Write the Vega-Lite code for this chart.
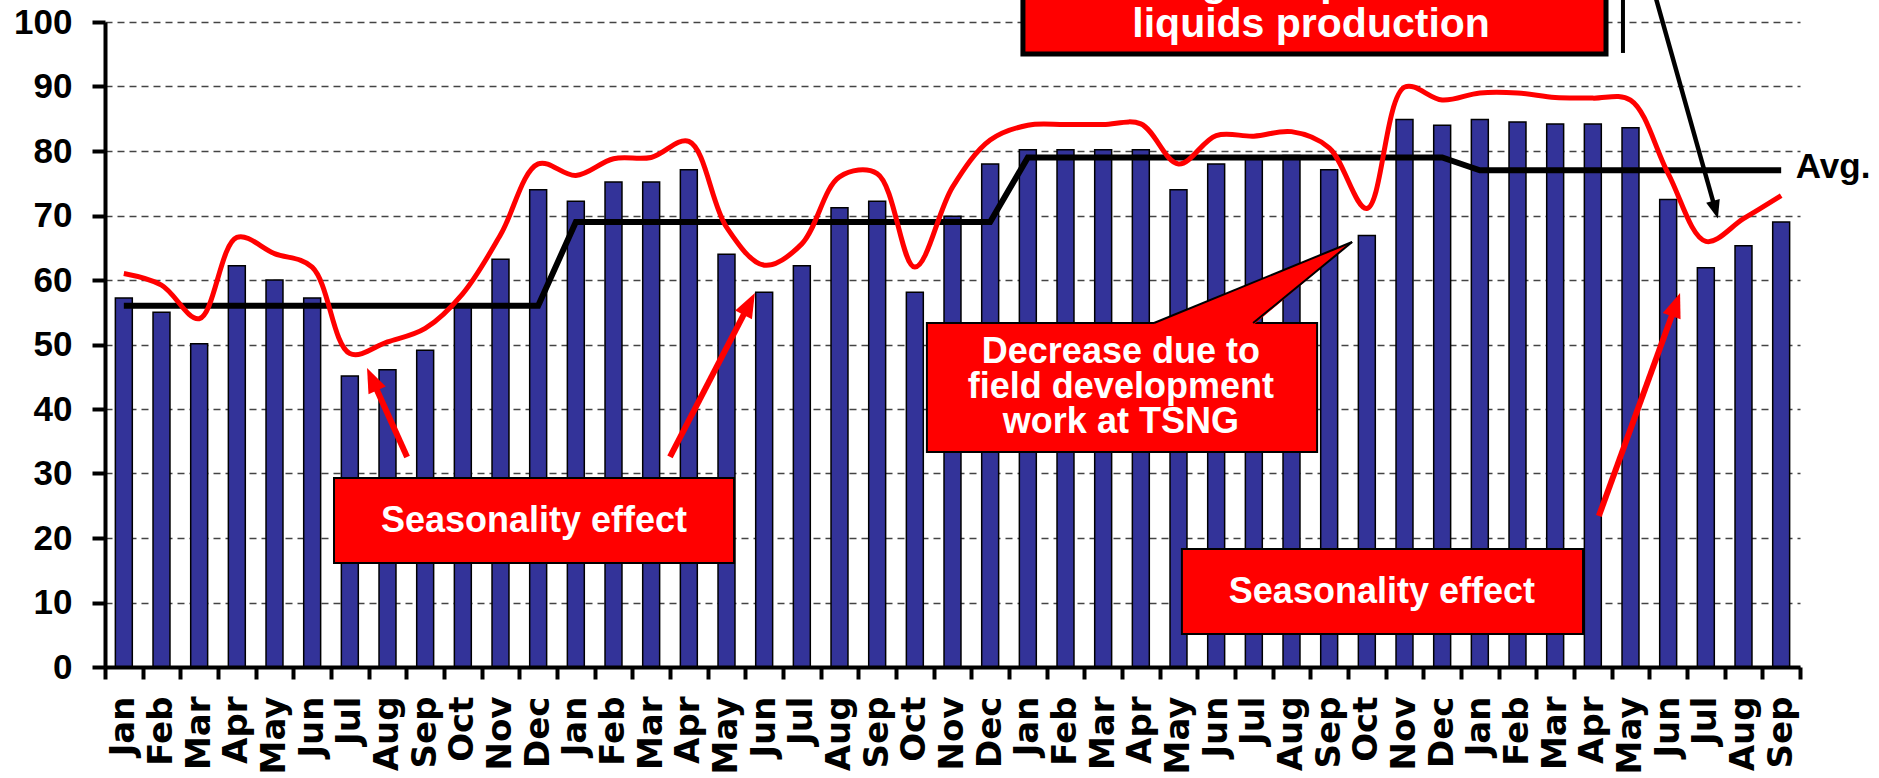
{
  "$schema": "https://vega.github.io/schema/vega-lite/v6.json",
  "width": 1695,
  "height": 645,
  "autosize": {"type": "none"},
  "padding": {"left": 105, "top": 22, "right": 79, "bottom": 111},
  "background": "white",
  "config": {
    "view": {"stroke": null},
    "axisY": {
      "labelFont": "Liberation Sans",
      "labelFontWeight": "bold",
      "labelFontSize": 35,
      "labelColor": "black",
      "labelPadding": 20,
      "labelOverlap": false,
      "tickSize": 13,
      "tickWidth": 4,
      "tickColor": "black",
      "domainColor": "black",
      "domainWidth": 4,
      "grid": true,
      "gridColor": "#444444",
      "gridDash": [7, 5],
      "gridWidth": 1.3
    }
  },
  "datasets": {
    "monthly": [
      {"period": "Jan-1", "value": 57.2, "red": 61.0, "avg": 56},
      {"period": "Feb-1", "value": 55.0, "red": 59.2, "avg": 56},
      {"period": "Mar-1", "value": 50.1, "red": 54.0, "avg": 56},
      {"period": "Apr-1", "value": 62.2, "red": 66.6, "avg": 56},
      {"period": "May-1", "value": 60.0, "red": 64.1, "avg": 56},
      {"period": "Jun-1", "value": 57.2, "red": 62.0, "avg": 56},
      {"period": "Jul-1", "value": 45.1, "red": 48.6, "avg": 56},
      {"period": "Aug-1", "value": 46.1, "red": 50.4, "avg": 56},
      {"period": "Sep-1", "value": 49.1, "red": 52.5, "avg": 56},
      {"period": "Oct-1", "value": 56.0, "red": 57.9, "avg": 56},
      {"period": "Nov-1", "value": 63.2, "red": 67.0, "avg": 56},
      {"period": "Dec-1", "value": 74.0, "red": 78.0, "avg": 56},
      {"period": "Jan-2", "value": 72.2, "red": 76.2, "avg": 69},
      {"period": "Feb-2", "value": 75.2, "red": 78.8, "avg": 69},
      {"period": "Mar-2", "value": 75.2, "red": 79.0, "avg": 69},
      {"period": "Apr-2", "value": 77.1, "red": 81.5, "avg": 69},
      {"period": "May-2", "value": 64.0, "red": 68.2, "avg": 69},
      {"period": "Jun-2", "value": 58.1, "red": 62.3, "avg": 69},
      {"period": "Jul-2", "value": 62.2, "red": 65.6, "avg": 69},
      {"period": "Aug-2", "value": 71.2, "red": 76.0, "avg": 69},
      {"period": "Sep-2", "value": 72.2, "red": 76.5, "avg": 69},
      {"period": "Oct-2", "value": 58.1, "red": 62.0, "avg": 69},
      {"period": "Nov-2", "value": 69.9, "red": 74.4, "avg": 69},
      {"period": "Dec-2", "value": 78.0, "red": 81.7, "avg": 69},
      {"period": "Jan-3", "value": 80.2, "red": 84.0, "avg": 79},
      {"period": "Feb-3", "value": 80.2, "red": 84.1, "avg": 79},
      {"period": "Mar-3", "value": 80.2, "red": 84.1, "avg": 79},
      {"period": "Apr-3", "value": 80.2, "red": 84.2, "avg": 79},
      {"period": "May-3", "value": 74.0, "red": 78.0, "avg": 79},
      {"period": "Jun-3", "value": 78.0, "red": 82.4, "avg": 79},
      {"period": "Jul-3", "value": 79.0, "red": 82.3, "avg": 79},
      {"period": "Aug-3", "value": 79.3, "red": 83.0, "avg": 79},
      {"period": "Sep-3", "value": 77.1, "red": 80.5, "avg": 79},
      {"period": "Oct-3", "value": 66.9, "red": 71.1, "avg": 79},
      {"period": "Nov-3", "value": 84.9, "red": 89.9, "avg": 79},
      {"period": "Dec-3", "value": 84.0, "red": 87.9, "avg": 79},
      {"period": "Jan-4", "value": 84.9, "red": 89.0, "avg": 77},
      {"period": "Feb-4", "value": 84.5, "red": 89.0, "avg": 77},
      {"period": "Mar-4", "value": 84.2, "red": 88.3, "avg": 77},
      {"period": "Apr-4", "value": 84.2, "red": 88.2, "avg": 77},
      {"period": "May-4", "value": 83.6, "red": 87.9, "avg": 77},
      {"period": "Jun-4", "value": 72.5, "red": 76.5, "avg": 77},
      {"period": "Jul-4", "value": 61.9, "red": 66.0, "avg": 77},
      {"period": "Aug-4", "value": 65.3, "red": 69.5, "avg": 77},
      {"period": "Sep-4", "value": 69.0, "red": 73.1, "avg": 77}
    ],
    "boxes": [
      {"name": "season1", "x": 6.08, "x2": 16.70, "y": 29.30, "y2": 16.12},
      {"name": "season2", "x": 28.59, "x2": 39.24, "y": 18.29, "y2": 5.12},
      {"name": "decrease", "x": 21.82, "x2": 32.18, "y": 53.33, "y2": 33.33}
    ],
    "topbox": [
      {"x": 24.37, "x2": 39.85, "y": 112, "y2": 95.04}
    ],
    "wedge": [
      {"x": 27.85, "y": 53.33, "y2": 53.0},
      {"x": 30.48, "y": 59.61, "y2": 53.0},
      {"x": 33.11, "y": 65.89, "y2": 65.89}
    ],
    "wedgeEdges": [
      {"x": 27.85, "y": 53.33, "x2": 33.11, "y2": 65.89},
      {"x": 30.48, "y": 53.33, "x2": 33.11, "y2": 65.89}
    ],
    "redArrows": [
      {"id": "a", "x": 8.02, "y": 32.56, "x2": 7.12, "y2": 44.23},
      {"id": "b", "x": 15.00, "y": 32.56, "x2": 17.07, "y2": 55.92},
      {"id": "c", "x": 39.66, "y": 23.41, "x2": 41.68, "y2": 55.80}
    ],
    "blackArrow": [
      {"id": "k", "x": 41.04, "y": 106.5, "x2": 42.74, "y2": 71.2}
    ],
    "heads": [
      {"id": "a", "x": 7.12, "y": 44.23},
      {"id": "b", "x": 17.07, "y": 55.92},
      {"id": "c", "x": 41.68, "y": 55.80},
      {"id": "k", "x": 42.74, "y": 71.2}
    ],
    "bar": [
      {"x": 40.30, "y": 95.2, "y2": 112}
    ],
    "notes": [
      {"group": "box", "text": "Seasonality effect", "x": 11.39, "y": 20.93},
      {"group": "box", "text": "Seasonality effect", "x": 33.90, "y": 9.92},
      {"group": "box", "text": "Decrease due to", "x": 26.97, "y": 47.13},
      {"group": "box", "text": "field development", "x": 26.97, "y": 41.71},
      {"group": "box", "text": "work at TSNG", "x": 26.97, "y": 36.28},
      {"group": "top", "text": "Lower gas input affected", "x": 32.02, "y": 104.1},
      {"group": "top", "text": "liquids production", "x": 32.02, "y": 97.67},
      {"group": "avg", "text": "Avg.", "x": 44.89, "y": 75.8}
    ]
  },
  "layer": [
    {
      "data": {"name": "monthly"},
      "encoding": {
        "x": {
          "field": "period",
          "type": "ordinal",
          "sort": null,
          "title": null,
          "scale": {"paddingInner": 0, "paddingOuter": 0},
          "axis": {
            "tickBand": "extent",
            "labelExpr": "split(datum.label, '-')[0]",
            "labelAngle": 270,
            "labelAlign": "right",
            "labelBaseline": "middle",
            "labelFont": "DejaVu Sans",
            "labelFontWeight": "bold",
            "labelFontSize": 34,
            "labelColor": "black",
            "labelPadding": 17,
            "labelOverlap": false,
            "tickSize": 12,
            "tickWidth": 4,
            "tickColor": "black",
            "domainColor": "black",
            "domainWidth": 4,
            "grid": false,
            "zindex": 1
          }
        }
      },
      "layer": [
        {
          "mark": {"type": "bar", "width": {"band": 0.45}, "fill": "#333399", "stroke": "black", "strokeWidth": 1.5},
          "encoding": {
            "y": {
              "field": "value",
              "type": "quantitative",
              "title": null,
              "scale": {"domain": [0, 100], "nice": false},
              "axis": {"values": [0, 10, 20, 30, 40, 50, 60, 70, 80, 90, 100]}
            }
          }
        },
        {
          "mark": {"type": "line", "color": "black", "strokeWidth": 6},
          "encoding": {"y": {"field": "avg", "type": "quantitative", "title": null}}
        },
        {
          "mark": {"type": "line", "color": "#ff0000", "strokeWidth": 5, "interpolate": "catmull-rom"},
          "encoding": {"y": {"field": "red", "type": "quantitative", "title": null}}
        }
      ]
    },
    {
      "encoding": {
        "x": {"field": "x", "type": "quantitative", "title": null, "scale": {"domain": [0, 45], "nice": false, "zero": false}, "axis": null},
        "y": {"field": "y", "type": "quantitative", "title": null}
      },
      "layer": [
        {
          "data": {"name": "boxes"},
          "mark": {"type": "rect", "fill": "#ff0000", "stroke": "black", "strokeWidth": 2},
          "encoding": {"x2": {"field": "x2"}, "y2": {"field": "y2"}}
        },
        {
          "data": {"name": "wedge"},
          "mark": {"type": "area", "fill": "#ff0000", "strokeWidth": 0},
          "encoding": {"y2": {"field": "y2"}}
        },
        {
          "data": {"name": "wedgeEdges"},
          "mark": {"type": "rule", "color": "black", "strokeWidth": 2},
          "encoding": {"x2": {"field": "x2"}, "y2": {"field": "y2"}}
        },
        {
          "data": {"name": "topbox"},
          "mark": {"type": "rect", "fill": "#ff0000", "stroke": "black", "strokeWidth": 5},
          "encoding": {"x2": {"field": "x2"}, "y2": {"field": "y2"}}
        },
        {
          "data": {"name": "bar"},
          "mark": {"type": "rule", "color": "black", "strokeWidth": 4},
          "encoding": {"y2": {"field": "y2"}}
        },
        {
          "data": {"name": "redArrows"},
          "mark": {"type": "rule", "color": "#ff0000", "strokeWidth": 6},
          "encoding": {"x2": {"field": "x2"}, "y2": {"field": "y2"}}
        },
        {
          "data": {"name": "blackArrow"},
          "mark": {"type": "rule", "color": "black", "strokeWidth": 4.5},
          "encoding": {"x2": {"field": "x2"}, "y2": {"field": "y2"}}
        },
        {
          "data": {"name": "heads"},
          "transform": [{"filter": "datum.id === 'a'"}],
          "mark": {"type": "point", "shape": "M0,-1L0.63,0.64L-0.63,0.64Z", "size": 900, "filled": true, "fill": "#ff0000", "strokeWidth": 0, "opacity": 1, "angle": 335.8},
          "encoding": {}
        },
        {
          "data": {"name": "heads"},
          "transform": [{"filter": "datum.id === 'b'"}],
          "mark": {"type": "point", "shape": "M0,-1L0.63,0.64L-0.63,0.64Z", "size": 900, "filled": true, "fill": "#ff0000", "strokeWidth": 0, "opacity": 1, "angle": 27.4},
          "encoding": {}
        },
        {
          "data": {"name": "heads"},
          "transform": [{"filter": "datum.id === 'c'"}],
          "mark": {"type": "point", "shape": "M0,-1L0.63,0.64L-0.63,0.64Z", "size": 900, "filled": true, "fill": "#ff0000", "strokeWidth": 0, "opacity": 1, "angle": 20},
          "encoding": {}
        },
        {
          "data": {"name": "heads"},
          "transform": [{"filter": "datum.id === 'k'"}],
          "mark": {"type": "point", "shape": "M0,-1L0.63,0.64L-0.63,0.64Z", "size": 500, "filled": true, "fill": "black", "strokeWidth": 0, "opacity": 1, "angle": 164.5},
          "encoding": {}
        },
        {
          "data": {"name": "notes"},
          "transform": [{"filter": "datum.group === 'box'"}],
          "mark": {"type": "text", "font": "Liberation Sans", "fontWeight": "bold", "fontSize": 36, "color": "white", "align": "center", "baseline": "alphabetic"},
          "encoding": {"text": {"field": "text"}}
        },
        {
          "data": {"name": "notes"},
          "transform": [{"filter": "datum.group === 'top'"}],
          "mark": {"type": "text", "font": "Liberation Sans", "fontWeight": "bold", "fontSize": 41, "color": "white", "align": "center", "baseline": "alphabetic"},
          "encoding": {"text": {"field": "text"}}
        },
        {
          "data": {"name": "notes"},
          "transform": [{"filter": "datum.group === 'avg'"}],
          "mark": {"type": "text", "font": "Liberation Sans", "fontWeight": "bold", "fontSize": 35, "color": "black", "align": "left", "baseline": "alphabetic"},
          "encoding": {"text": {"field": "text"}}
        }
      ]
    }
  ],
  "resolve": {"scale": {"x": "independent"}}
}
